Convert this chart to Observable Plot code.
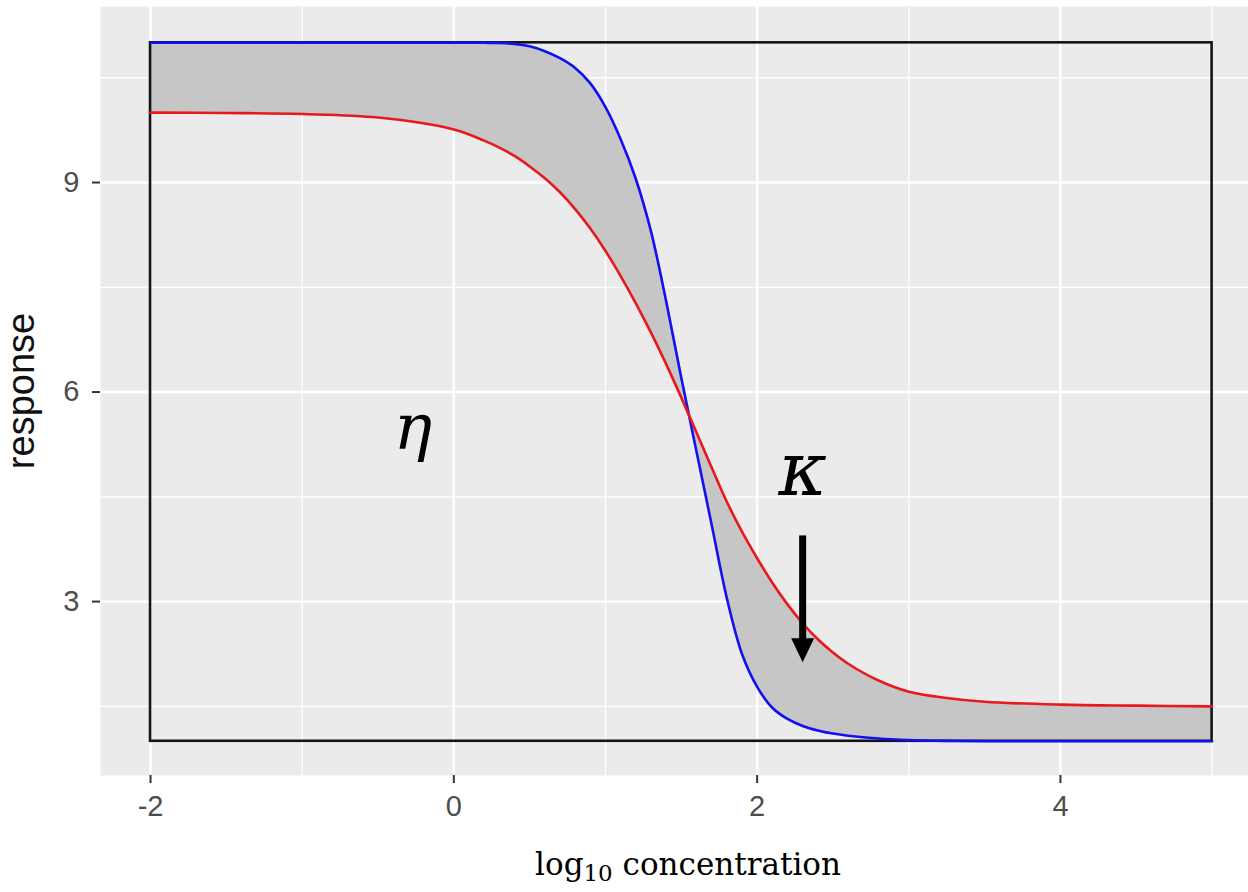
<!DOCTYPE html>
<html>
<head>
<meta charset="utf-8">
<script src="https://cdn.jsdelivr.net/npm/d3@7"></script>
<script src="https://cdn.jsdelivr.net/npm/@observablehq/plot@0.6"></script>
<style>
  html, body { margin: 0; padding: 0; background: #fff; }
  #chart svg { display: block; }
  #xlabel {
    width: 1248px; height: 62px; box-sizing: border-box;
    padding-top: 19px; padding-left: 128px;
    text-align: center;
    font-family: 'DejaVu Serif', serif; font-size: 31px; line-height: 31px; color: #000;
    white-space: nowrap;
  }
  #xlabel sub { font-size: 0.74em; vertical-align: -0.28em; line-height: 0; }
</style>
</head>
<body>
<div id="chart"></div>
<div id="xlabel">log<sub>10</sub> concentration</div>
<script>
// log10 concentration sample points
const conc = [-2, -1.5, -1, -0.5, 0, 0.2, 0.3, 0.4, 0.5, 0.6, 0.7, 0.8, 0.9, 1.0, 1.1, 1.2, 1.3, 1.4, 1.5, 1.6, 1.7, 1.8, 1.9, 2.0, 2.1, 2.2, 2.3, 2.4, 2.5, 2.6, 2.8, 3.0, 3.25, 3.5, 4.0, 4.5, 5.0];
// blue curve (steep)
const blueResp = [11, 11, 11, 11, 11, 11, 10.998, 10.985, 10.95, 10.88, 10.78, 10.64, 10.42, 10.08, 9.62, 9.05, 8.3, 7.3, 6.2, 5.15, 4.1, 3.05, 2.25, 1.78, 1.48, 1.32, 1.22, 1.155, 1.11, 1.08, 1.04, 1.018, 1.006, 1.001, 1.0, 1.0, 1.0];
// red curve (shallow)
const redResp = [10.0, 9.995, 9.98, 9.93, 9.76, 9.6, 9.5, 9.38, 9.23, 9.06, 8.86, 8.62, 8.34, 8.02, 7.66, 7.27, 6.85, 6.4, 5.92, 5.42, 4.92, 4.43, 4.0, 3.62, 3.27, 2.96, 2.69, 2.46, 2.27, 2.11, 1.87, 1.71, 1.62, 1.565, 1.525, 1.51, 1.5];

// bounding box of the curves
const boxX = [-2, 5];
const boxY = [1, 11];

// ticks and grid
const xTicks = [-2, 0, 2, 4];
const xTickLabels = ["-2", "0", "2", "4"];
const xMinor = [-1, 1, 3, 5];
const yTicks = [3, 6, 9];
const yTickLabels = ["3", "6", "9"];
const yMinor = [1.5, 4.5, 7.5, 10.5];

// annotations (data coordinates)
const etaLabel = [{text: "η", x: -0.27, y: 5.19}];
const kappaLabel = [{text: "κ", x: 2.3, y: 4.52}];
const arrowAt = [{x: 2.3, top: 3.94, tip: 2.13}];

const rows = conc.map((c, i) => ({c, blue: blueResp[i], red: redResp[i]}));

const headSymbol = {
  draw(ctx) {
    ctx.moveTo(0, 0);
    ctx.lineTo(-11.5, -24);
    ctx.lineTo(11.5, -24);
    ctx.closePath();
  }
};

const chart = Plot.plot({
  width: 1248,
  height: 830,
  marginLeft: 100,
  marginRight: 0,
  marginTop: 6,
  marginBottom: 55,
  style: {fontFamily: "'Liberation Sans', Arial, sans-serif", fontSize: "29px", background: "white"},
  x: {domain: [-2.33, 5.24]},
  y: {domain: [0.51, 11.52]},
  marks: [
    Plot.frame({fill: "#EBEBEB", stroke: "none"}),
    Plot.ruleX(xMinor, {stroke: "white", strokeWidth: 1.3}),
    Plot.ruleY(yMinor, {stroke: "white", strokeWidth: 1.3}),
    Plot.ruleX(xTicks, {stroke: "white", strokeWidth: 2.4}),
    Plot.ruleY(yTicks, {stroke: "white", strokeWidth: 2.4}),
    Plot.areaY(rows, {x: "c", y1: "blue", y2: "red", fill: "#C6C6C6", curve: "catmull-rom"}),
    Plot.rect([{x1: boxX[0], x2: boxX[1], y1: boxY[0], y2: boxY[1]}], {x1: "x1", x2: "x2", y1: "y1", y2: "y2", fill: "none", stroke: "#151515", strokeWidth: 2.6}),
    Plot.line(rows, {x: "c", y: "blue", stroke: "#1010F0", strokeWidth: 2.6, curve: "catmull-rom"}),
    Plot.line(rows, {x: "c", y: "red", stroke: "#E8181C", strokeWidth: 2.6, curve: "catmull-rom"}),
    Plot.ruleX(arrowAt, {x: "x", y1: "top", y2: d => d.tip + 0.3, stroke: "black", strokeWidth: 7}),
    Plot.dot(arrowAt, {x: "x", y: "tip", symbol: headSymbol, fill: "black", stroke: "none"}),
    Plot.text(etaLabel, {x: "x", y: "y", text: "text", lineAnchor: "bottom", fontFamily: "'DejaVu Serif', serif", fontStyle: "italic", fontSize: 64, fill: "black"}),
    Plot.text(kappaLabel, {x: "x", y: "y", text: "text", lineAnchor: "bottom", fontFamily: "'DejaVu Serif', serif", fontStyle: "italic", fontSize: 74, fill: "black"}),
    Plot.axisX({ticks: xTicks, tickFormat: (d, i) => xTickLabels[i], tickSize: 8, tickPadding: 12, stroke: "#333333", strokeWidth: 2, fill: "#4D4D4D", fontSize: 29, label: null}),
    Plot.axisY({ticks: yTicks, tickFormat: (d, i) => yTickLabels[i], tickSize: 8, tickPadding: 13, stroke: "#333333", strokeWidth: 2, fill: "#4D4D4D", fontSize: 29, label: null}),
    Plot.text(["response"], {frameAnchor: "left", rotate: -90, dx: -67, lineAnchor: "bottom", textAnchor: "middle", fontSize: 38, fill: "#111"})
  ]
});
document.getElementById("chart").appendChild(chart);
</script>
</body>
</html>
